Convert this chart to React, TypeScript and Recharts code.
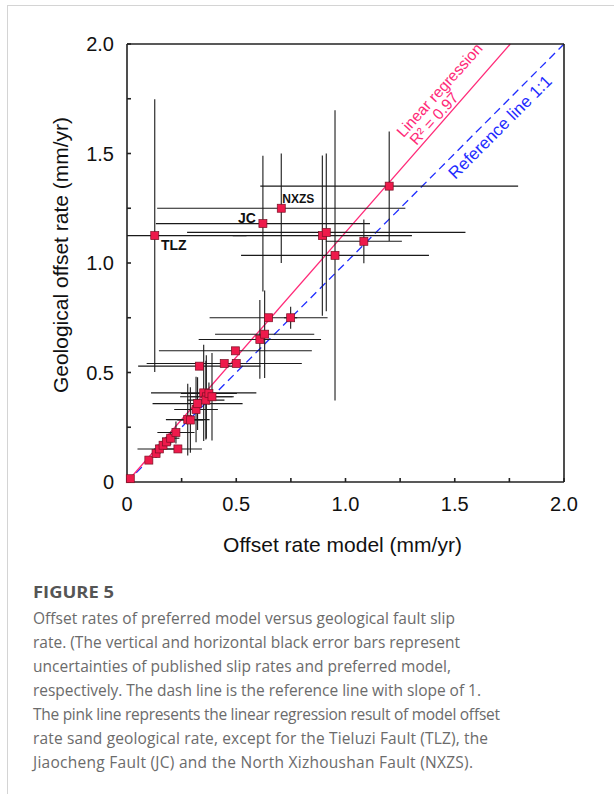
import React from 'react';
import {
  ScatterChart,
  Scatter,
  XAxis,
  YAxis,
  ErrorBar,
  ReferenceLine,
  ReferenceDot,
} from 'recharts';

// offset rate of preferred model (x) vs geological slip rate (y), mm/yr
const modelRate = [
  0.015, 0.1, 0.133, 0.148, 0.165, 0.18, 0.2, 0.224, 0.233, 0.278, 0.29, 0.316, 0.323, 0.351,
  0.363, 0.361, 0.375, 0.389, 0.331, 0.445, 0.5, 0.496, 0.608, 0.63, 0.648, 0.749, 0.622, 0.706,
  0.127, 0.894, 0.912, 0.952, 1.084, 1.2,
];
const geoRate = [
  0.015, 0.1, 0.13, 0.151, 0.168, 0.183, 0.2, 0.226, 0.151, 0.285, 0.283, 0.331, 0.358, 0.407,
  0.389, 0.374, 0.404, 0.389, 0.529, 0.541, 0.541, 0.599, 0.651, 0.675, 0.75, 0.75, 1.18, 1.25,
  1.125, 1.125, 1.14, 1.035, 1.099, 1.351,
];
// model uncertainty (horizontal bars); TLZ is [low, high]
const modelErr: (number | number[])[] = [
  0, 0.01, 0.02, 0.1, 0.03, 0.03, 0.04, 0.085, 0.11, 0.1, 0.06, 0.1, 0.206, 0.241, 0.12, 0.085,
  0.128, 0.1, 0.28, 0.355, 0, 0.35, 0.28, 0.227, 0.27, 0.03, 0.49, 0.568, [0.127, 0.42], 0.41,
  0.637, 0.43, 0.174, 0.59,
];
// published slip-rate uncertainty (vertical bars)
const geoErr = [
  0, 0.01, 0.02, 0.02, 0.02, 0.02, 0.03, 0.05, 0, 0.164, 0.15, 0.15, 0.12, 0.22, 0.19, 0.18, 0.05,
  0.2, 0, 0, 0, 0, 0.18, 0.2, 0, 0.05, 0.31, 0.25, 0.623, 0.366, 0.36, 0.663, 0.1, 0.25,
];

// excluded faults, index into the arrays above
const faultNames = ['JC', 'NXZS', 'TLZ'];
const faultIndex = [26, 27, 28];

const axisTicks = [0, 0.25, 0.5, 0.75, 1, 1.25, 1.5, 1.75, 2];

const regSlope = 1.14;
const regIntercept = 0;
const regStartX = 0.01;

const captionLines = [
  'Offset rates of preferred model versus geological fault slip',
  'rate. (The vertical and horizontal black error bars represent',
  'uncertainties of published slip rates and preferred model,',
  'respectively. The dash line is the reference line with slope of 1.',
  'The pink line represents the linear regression result of model offset',
  'rate sand geological rate, except for the Tieluzi Fault (TLZ), the',
  'Jiaocheng Fault (JC) and the North Xizhoushan Fault (NXZS).',
];
const captionWidths = [422, 427, 418, 448, 467, 455, 440];

const points = modelRate.map((x, i) => ({ x, y: geoRate[i], xe: modelErr[i], ye: geoErr[i] }));

const PINK = '#ff2a78';
const BLUE = '#1f2dff';
const AXIS = '#222';
const FONT = '"Liberation Sans", Arial, Helvetica, sans-serif';

const fmtTick = (v: number) => (v % 0.5 !== 0 ? '' : v === 0 ? '0' : v.toFixed(1));

const Square = (p: any) => (
  <rect x={p.cx - 4} y={p.cy - 4} width={8} height={8} fill="#ee1a4b" stroke="#7a1024" strokeWidth={0.7} />
);

// label offsets (px) from each fault's marker
const faultLabelStyle: Record<string, { dx: number; dy: number; size: number }> = {
  JC: { dx: -16, dy: -6, size: 14 },
  NXZS: { dx: 17, dy: -9, size: 12 },
  TLZ: { dx: 19, dy: 9, size: 14 },
};

const rotatedText = (text: string, color: string, size: number, angle: number) => (p: any) => {
  const vb = p.viewBox;
  const cx = vb.x + vb.width / 2;
  const cy = vb.y + vb.height / 2;
  return (
    <text
      x={cx}
      y={cy}
      fill={color}
      fontSize={size}
      fontFamily={FONT}
      textAnchor="middle"
      dominantBaseline="central"
      transform={`rotate(${angle} ${cx} ${cy})`}
    >
      {text}
    </text>
  );
};

const faultLabel = (name: string) => (p: any) => {
  const s = faultLabelStyle[name];
  const vb = p.viewBox;
  return (
    <text
      x={vb.x + vb.width / 2 + s.dx}
      y={vb.y + vb.height / 2 + s.dy}
      fontSize={s.size}
      fontWeight="bold"
      fontFamily={FONT}
      fill="#111"
      textAnchor="middle"
      dominantBaseline="central"
    >
      {name}
    </text>
  );
};

export default function App() {
  const regEndX = (2 - regIntercept) / regSlope;
  return (
    <div style={{ position: 'absolute', left: 0, top: 0, width: 614, height: 794, background: '#fff', overflow: 'hidden' }}>
      <div
        style={{
          position: 'absolute',
          left: 7,
          top: 5,
          width: 640,
          height: 820,
          borderLeft: '1px solid #d4d4d4',
          borderTop: '1px solid #d4d4d4',
        }}
      />
      <div style={{ position: 'absolute', left: 0, top: 0 }}>
        <ScatterChart width={614} height={560} margin={{ top: 43, right: 49, bottom: 0, left: 0 }}>
          <XAxis
            type="number"
            dataKey="x"
            domain={[0, 2]}
            ticks={axisTicks}
            interval={0}
            height={78}
            tickSize={-4}
            tickMargin={19}
            tickFormatter={fmtTick}
            stroke={AXIS}
            strokeWidth={1.6}
            tick={{ fontSize: 20, fill: '#111', fontFamily: FONT }}
            label={(p: any) => (
              <text
                x={p.viewBox.x + p.viewBox.width / 2 - 3}
                y={p.viewBox.y + 70}
                textAnchor="middle"
                fontSize={21}
                fontFamily={FONT}
                fill="#111"
              >
                Offset rate model (mm/yr)
              </text>
            )}
          />
          <XAxis
            xAxisId="top"
            orientation="top"
            type="number"
            domain={[0, 2]}
            ticks={axisTicks}
            interval={0}
            height={1}
            tickSize={-4}
            tick={false}
            stroke={AXIS}
            strokeWidth={1.6}
          />
          <YAxis
            type="number"
            dataKey="y"
            domain={[0, 2]}
            ticks={axisTicks}
            interval={0}
            width={127}
            tickSize={-4}
            tickMargin={17}
            tickFormatter={fmtTick}
            stroke={AXIS}
            strokeWidth={1.6}
            tick={{ fontSize: 20, fill: '#111', fontFamily: FONT }}
            label={(p: any) => {
              const x = p.viewBox.x + 60;
              const y = p.viewBox.y + p.viewBox.height / 2 - 8;
              return (
                <text
                  x={x}
                  y={y}
                  textAnchor="middle"
                  dominantBaseline="central"
                  fontSize={21}
                  fontFamily={FONT}
                  fill="#111"
                  transform={`rotate(-90 ${x} ${y})`}
                >
                  Geological offset rate (mm/yr)
                </text>
              );
            }}
          />
          <YAxis
            yAxisId="right"
            orientation="right"
            type="number"
            domain={[0, 2]}
            ticks={axisTicks}
            interval={0}
            width={1}
            tickSize={-4}
            tick={false}
            stroke={AXIS}
            strokeWidth={1.6}
          />
          <ReferenceLine
            segment={[
              { x: 0, y: 0 },
              { x: 2, y: 2 },
            ]}
            stroke={BLUE}
            strokeWidth={1.3}
            strokeDasharray="8 5"
          />
          <ReferenceLine
            segment={[
              { x: regStartX, y: regSlope * regStartX + regIntercept },
              { x: regEndX, y: 2 },
            ]}
            stroke={PINK}
            strokeWidth={1.3}
          />
          <Scatter data={points} shape={Square} isAnimationActive={false}>
            <ErrorBar dataKey="xe" direction="x" width={0} stroke="#1a1a1a" strokeWidth={1.1} />
            <ErrorBar dataKey="ye" direction="y" width={0} stroke="#1a1a1a" strokeWidth={1.1} />
          </Scatter>
          {faultNames.map((name, k) => (
            <ReferenceDot
              key={name}
              x={modelRate[faultIndex[k]]}
              y={geoRate[faultIndex[k]]}
              r={1}
              fill="none"
              stroke="none"
              label={faultLabel(name)}
            />
          ))}
          <ReferenceDot x={1.43} y={1.79} r={1} fill="none" stroke="none" label={rotatedText('Linear regression', PINK, 15.5, -48)} />
          <ReferenceDot x={1.405} y={1.66} r={1} fill="none" stroke="none" label={rotatedText('R² = 0.97', PINK, 15.5, -48)} />
          <ReferenceDot x={1.708} y={1.62} r={1} fill="none" stroke="none" label={rotatedText('Reference line 1:1', BLUE, 17, -45)} />
        </ScatterChart>
      </div>
      <svg width={614} height={224} style={{ position: 'absolute', left: 0, top: 570 }}>
        <text x={33} y={28} fontFamily='"Open Sans", sans-serif' fontWeight={700} fontSize={16} fill="#555" textLength={81} lengthAdjust="spacingAndGlyphs">
          FIGURE 5
        </text>
        {captionLines.map((line, i) => (
          <text
            key={i}
            x={33}
            y={54 + i * 24}
            fontFamily='"Open Sans", sans-serif'
            fontSize={15.5}
            fill="#6b6b6b"
            textLength={captionWidths[i]}
            lengthAdjust="spacing"
          >
            {line}
          </text>
        ))}
      </svg>
    </div>
  );
}
